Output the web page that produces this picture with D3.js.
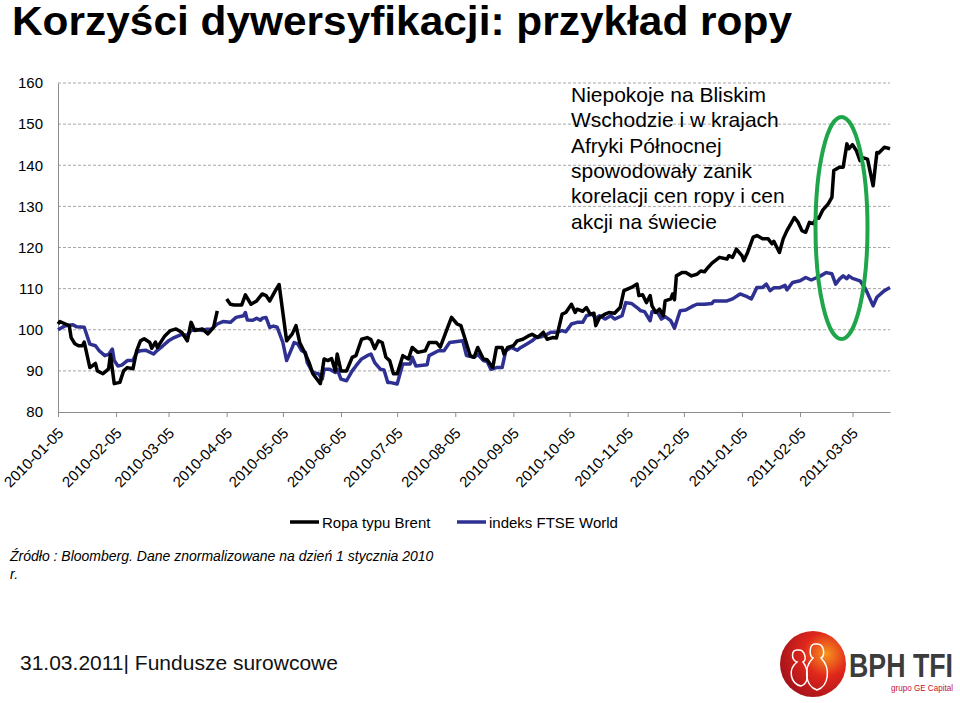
<!DOCTYPE html>
<html>
<head>
<meta charset="utf-8">
<script src="https://cdn.jsdelivr.net/npm/d3@7"></script>
<style>
  body { margin: 0; background: #fff; }
  svg { display: block; font-family: "Liberation Sans", Arial, sans-serif; }
</style>
</head>
<body>
<div id="chart"></div>
<script>
// Brent crude, normalised to 100 on 2010-01-05 (null = gap in the source series)
const brentDates = ["2010-01-05","2010-01-06","2010-01-09","2010-01-11","2010-01-12","2010-01-14","2010-01-16","2010-01-18","2010-01-19","2010-01-22","2010-01-25","2010-01-26","2010-01-29","2010-02-01","2010-02-02","2010-02-04","2010-02-07","2010-02-09","2010-02-11","2010-02-14","2010-02-16","2010-02-18","2010-02-20","2010-02-23","2010-02-24","2010-02-26","2010-02-27","2010-03-03","2010-03-06","2010-03-09","2010-03-12","2010-03-15","2010-03-17","2010-03-19","2010-03-23","2010-03-26","2010-03-29","2010-03-31","2010-04-02","2010-04-05","2010-04-07","2010-04-09","2010-04-13","2010-04-15","2010-04-18","2010-04-21","2010-04-24","2010-04-26","2010-04-28","2010-05-01","2010-05-03","2010-05-07","2010-05-10","2010-05-12","2010-05-14","2010-05-17","2010-05-19","2010-05-21","2010-05-25","2010-05-27","2010-05-29","2010-05-31","2010-06-02","2010-06-03","2010-06-05","2010-06-08","2010-06-11","2010-06-13","2010-06-16","2010-06-19","2010-06-21","2010-06-23","2010-06-25","2010-06-27","2010-06-29","2010-07-01","2010-07-03","2010-07-05","2010-07-08","2010-07-11","2010-07-13","2010-07-16","2010-07-20","2010-07-22","2010-07-26","2010-07-28","2010-07-31","2010-08-03","2010-08-06","2010-08-08","2010-08-10","2010-08-13","2010-08-15","2010-08-17","2010-08-20","2010-08-22","2010-08-25","2010-08-27","2010-08-30","2010-08-31","2010-09-02","2010-09-05","2010-09-07","2010-09-10","2010-09-13","2010-09-15","2010-09-18","2010-09-21","2010-09-23","2010-09-26","2010-09-28","2010-10-01","2010-10-03","2010-10-06","2010-10-08","2010-10-09","2010-10-12","2010-10-14","2010-10-16","2010-10-18","2010-10-19","2010-10-21","2010-10-24","2010-10-26","2010-10-29","2010-11-01","2010-11-03","2010-11-07","2010-11-10","2010-11-11","2010-11-13","2010-11-15","2010-11-17","2010-11-18","2010-11-20","2010-11-22","2010-11-24","2010-11-25","2010-11-28","2010-11-29","2010-11-30","2010-12-01","2010-12-04","2010-12-06","2010-12-09","2010-12-12","2010-12-14","2010-12-16","2010-12-18","2010-12-20","2010-12-24","2010-12-28","2010-12-29","2010-12-31","2011-01-02","2011-01-05","2011-01-06","2011-01-08","2011-01-11","2011-01-13","2011-01-16","2011-01-19","2011-01-21","2011-01-22","2011-01-25","2011-01-27","2011-01-29","2011-01-31","2011-02-02","2011-02-04","2011-02-06","2011-02-08","2011-02-10","2011-02-12","2011-02-14","2011-02-15","2011-02-17","2011-02-20","2011-02-22","2011-02-23","2011-02-26","2011-02-28","2011-03-02","2011-03-03","2011-03-05","2011-03-07","2011-03-09","2011-03-10","2011-03-13","2011-03-16","2011-03-18","2011-03-19","2011-03-22","2011-03-25"];
const brentValues = [101.4,102,101.4,101,98.1,96.6,96.1,96.1,97,90.8,91.8,90,89.3,90.5,94,86.9,87.2,90,90.8,90.5,94.9,97.3,97.8,96.9,95.5,97,95.7,98.5,99.8,100.2,99.4,97.3,101.8,99.8,100.2,99,100.6,104.6,null,107.5,106.2,106,106,108.5,106.2,107,108.7,108.3,107,109.5,111,97.3,99,101,96.9,94.1,92,89.3,86.9,92.9,92.5,93,90,94.1,90,90,93.3,93.7,97.7,98.1,97.6,95.4,97.3,96.9,93.3,92.5,89.3,89.3,93.7,92.9,95.7,94.5,94.9,96.9,96.9,95.8,99.4,103,101.4,101,98.1,93.7,93.3,95.7,92.9,92.7,90.8,95.7,95.7,94.1,95.7,96.1,97.3,97.7,98.5,98.9,98.1,99.4,97.7,98.1,98,103.8,104.2,106.2,104.2,105,104.5,105.4,103.8,104,101,103,103.8,104.2,104,105.4,109.5,110.3,111.1,108.3,108.5,106.6,108.3,105.8,104.2,105,103.4,107,107.5,108.7,107.3,113.1,113.9,113.9,113.1,113.5,114.3,114.1,115.2,116.2,117.6,117.2,118,117.6,119.6,118,116.8,118.8,122.5,122.9,122.1,122.1,120.9,121.5,118.8,122.1,124.1,125.7,127.3,126.1,124.1,123.7,126.1,125.8,127.3,127.1,129,130.6,132.2,138.7,139.5,139.5,145.2,144,145,143.6,141.1,141.9,141.5,135,143.1,143,144.4,144];

// FTSE World index, normalised to 100 on 2010-01-05
const ftseDates = ["2010-01-05","2010-01-09","2010-01-13","2010-01-15","2010-01-19","2010-01-22","2010-01-25","2010-01-27","2010-01-30","2010-02-01","2010-02-03","2010-02-04","2010-02-06","2010-02-08","2010-02-11","2010-02-14","2010-02-16","2010-02-18","2010-02-21","2010-02-25","2010-02-27","2010-03-02","2010-03-05","2010-03-08","2010-03-12","2010-03-15","2010-03-17","2010-03-20","2010-03-23","2010-03-25","2010-03-28","2010-03-31","2010-04-03","2010-04-07","2010-04-08","2010-04-10","2010-04-14","2010-04-15","2010-04-16","2010-04-19","2010-04-21","2010-04-23","2010-04-24","2010-04-26","2010-04-28","2010-04-30","2010-05-02","2010-05-05","2010-05-07","2010-05-10","2010-05-11","2010-05-13","2010-05-15","2010-05-17","2010-05-18","2010-05-21","2010-05-24","2010-05-26","2010-05-27","2010-05-30","2010-06-02","2010-06-03","2010-06-05","2010-06-08","2010-06-11","2010-06-13","2010-06-16","2010-06-19","2010-06-21","2010-06-23","2010-06-26","2010-06-28","2010-06-30","2010-07-01","2010-07-05","2010-07-08","2010-07-12","2010-07-13","2010-07-15","2010-07-21","2010-07-22","2010-07-27","2010-07-30","2010-08-02","2010-08-09","2010-08-11","2010-08-15","2010-08-17","2010-08-20","2010-08-22","2010-08-24","2010-08-27","2010-08-30","2010-09-01","2010-09-04","2010-09-07","2010-09-09","2010-09-12","2010-09-15","2010-09-17","2010-09-20","2010-09-23","2010-09-25","2010-09-28","2010-10-01","2010-10-03","2010-10-06","2010-10-09","2010-10-12","2010-10-14","2010-10-17","2010-10-19","2010-10-21","2010-10-24","2010-10-27","2010-10-29","2010-11-02","2010-11-04","2010-11-07","2010-11-10","2010-11-12","2010-11-14","2010-11-17","2010-11-18","2010-11-21","2010-11-23","2010-11-25","2010-11-28","2010-11-30","2010-12-03","2010-12-06","2010-12-10","2010-12-12","2010-12-16","2010-12-20","2010-12-21","2010-12-28","2010-12-31","2011-01-04","2011-01-07","2011-01-10","2011-01-13","2011-01-16","2011-01-18","2011-01-20","2011-01-22","2011-01-25","2011-01-28","2011-01-29","2011-02-01","2011-02-05","2011-02-08","2011-02-11","2011-02-14","2011-02-16","2011-02-19","2011-02-22","2011-02-24","2011-02-26","2011-02-28","2011-03-02","2011-03-03","2011-03-05","2011-03-09","2011-03-12","2011-03-16","2011-03-18","2011-03-22","2011-03-25"];
const ftseValues = [100,101,101.2,100.7,100.6,96.5,96.1,94.9,93.7,94,95.3,92.5,91.2,91.4,92.5,92.5,94.5,94.9,95,94.1,95,96.1,97.3,98.1,98.9,98.6,99.8,100.1,99.8,100.1,100.2,101.4,102,101.8,102.2,103,103.4,104.2,102.4,102.3,102.8,102.3,102.8,103,100.6,100.9,100.6,96.9,92.5,95.7,96.9,96.5,94.9,94.5,92,89.6,89.3,88,90.4,90.4,89.6,90.4,88,87.6,90,91.2,92.9,93.7,94.1,92,90.4,90.2,87.2,87.2,86.8,91.7,91.7,93.3,91.2,91.5,93.7,94.9,94.9,96.9,97.3,93.7,93.3,94,92.5,92.3,90.4,90.8,90.8,94.9,95.7,95,95.7,96.5,97.3,98.1,98.3,98.9,99.4,99.4,99.8,99.5,101.4,101.8,101.8,103.4,103.8,102.8,103.4,102.6,103.4,102.6,103.4,106.6,106.4,105.4,104.6,104.4,102.2,104.4,104.2,102.6,103.2,102.2,100.4,104.6,104.8,105.8,106.2,106.2,106.4,107,107,107.5,108.7,108.2,107.5,110.3,110.3,111.1,109.5,110.2,110.2,110.8,109.7,111.5,111.9,112.7,112.1,112.7,113.1,113.9,113.6,111.1,112.3,113.1,112.4,113.1,112.5,111.9,109.9,105.8,107.9,109.5,110.3];

const tickDates = ["2010-01-05","2010-02-05","2010-03-05","2010-04-05","2010-05-05","2010-06-05","2010-07-05","2010-08-05","2010-09-05","2010-10-05","2010-11-05","2010-12-05","2011-01-05","2011-02-05","2011-03-05"];
const yTicks = [80, 90, 100, 110, 120, 130, 140, 150, 160];
const seriesNames = ["Ropa typu Brent", "indeks FTSE World"];
const seriesColors = ["#000000", "#2e3192"];

const noteLines = ["Niepokoje na Bliskim", "Wschodzie i w krajach", "Afryki Północnej", "spowodowały zanik", "korelacji cen ropy i cen", "akcji na świecie"];

const width = 960, height = 703;
const margin = {top: 83, right: 70, bottom: 291, left: 58};
const parse = d3.timeParse("%Y-%m-%d");
const font = "Liberation Sans, Arial, sans-serif";

const svg = d3.select("#chart").append("svg")
    .attr("width", width)
    .attr("height", height);

// title
svg.append("text")
    .attr("x", 12).attr("y", 35)
    .attr("font-size", 40).attr("font-weight", "bold")
    .attr("textLength", 780).attr("lengthAdjust", "spacingAndGlyphs")
    .text("Korzyści dywersyfikacji: przykład ropy");

const x = d3.scaleTime()
    .domain([parse("2010-01-05"), parse("2011-03-25")])
    .range([margin.left, width - margin.right]);
const y = d3.scaleLinear()
    .domain([80, 160])
    .range([height - margin.bottom, margin.top]);

// grid
svg.append("g")
    .selectAll("line")
    .data(yTicks.slice(1))
    .enter().append("line")
    .attr("x1", margin.left).attr("x2", width - margin.right)
    .attr("y1", d => y(d)).attr("y2", d => y(d))
    .attr("stroke", "#a6a6a6")
    .attr("stroke-dasharray", "3,2");

// y axis
const yAxis = svg.append("g")
    .attr("transform", "translate(" + margin.left + ",0)")
    .call(d3.axisLeft(y).tickValues(yTicks).tickSize(0).tickPadding(15));
yAxis.select(".domain").attr("stroke", "#8c8c8c");
yAxis.selectAll("text").attr("font-size", 15).attr("fill", "#000")
    .attr("font-family", font);

// x axis
const xAxis = svg.append("g")
    .attr("transform", "translate(0," + y(80) + ")")
    .call(d3.axisBottom(x).tickValues(tickDates.map(parse))
        .tickFormat(d3.timeFormat("%Y-%m-%d")).tickSizeInner(5).tickSizeOuter(0));
xAxis.select(".domain").attr("stroke", "#8c8c8c");
xAxis.selectAll(".tick line").attr("stroke", "#8c8c8c");
xAxis.selectAll("text")
    .attr("font-size", 15).attr("fill", "#000")
    .attr("font-family", font)
    .attr("text-anchor", "end")
    .attr("dy", 0).attr("y", 0)
    .attr("transform", "translate(6,22) rotate(-45)");

// lines
const line = d3.line()
    .defined(d => d.v != null)
    .x(d => x(d.t))
    .y(d => y(d.v));

const brent = brentDates.map((d, i) => ({t: parse(d), v: brentValues[i]}));
const ftse = ftseDates.map((d, i) => ({t: parse(d), v: ftseValues[i]}));

svg.append("path").datum(ftse)
    .attr("d", line)
    .attr("fill", "none")
    .attr("stroke", seriesColors[1])
    .attr("stroke-width", 3.5)
    .attr("stroke-linejoin", "round");
svg.append("path").datum(brent)
    .attr("d", line)
    .attr("fill", "none")
    .attr("stroke", seriesColors[0])
    .attr("stroke-width", 3.5)
    .attr("stroke-linejoin", "round");

// annotation
const note = svg.append("text")
    .attr("font-size", 21).attr("fill", "#000");
note.selectAll("tspan")
    .data(noteLines)
    .enter().append("tspan")
    .attr("x", 571)
    .attr("y", (d, i) => 102 + i * 25.3)
    .text(d => d);

svg.append("ellipse")
    .attr("cx", 841.5).attr("cy", 228)
    .attr("rx", 26).attr("ry", 111)
    .attr("fill", "none")
    .attr("stroke", "#1fa64a")
    .attr("stroke-width", 4);

// legend
const legendX = [290, 457];
const legend = svg.append("g");
seriesNames.forEach((name, i) => {
    legend.append("line")
        .attr("x1", legendX[i]).attr("x2", legendX[i] + 29)
        .attr("y1", 522).attr("y2", 522)
        .attr("stroke", seriesColors[i]).attr("stroke-width", 3.5);
    legend.append("text")
        .attr("x", legendX[i] + 32).attr("y", 528)
        .attr("font-size", 15)
        .text(name);
});

// source note
svg.append("text")
    .attr("x", 10).attr("y", 561)
    .attr("font-size", 14).attr("font-style", "italic")
    .text("Źródło : Bloomberg. Dane znormalizowane na dzień 1 stycznia 2010");
svg.append("text")
    .attr("x", 10).attr("y", 579)
    .attr("font-size", 14).attr("font-style", "italic")
    .text("r.");

// footer
svg.append("text")
    .attr("x", 20).attr("y", 670)
    .attr("font-size", 21).attr("fill", "#111")
    .text("31.03.2011| Fundusze surowcowe");

// logo
const defs = svg.append("defs");
const grad = defs.append("radialGradient").attr("id", "logoGrad")
    .attr("cx", "70%").attr("cy", "35%").attr("r", "75%");
grad.append("stop").attr("offset", "0%").attr("stop-color", "#f7941d");
grad.append("stop").attr("offset", "45%").attr("stop-color", "#e0271c");
grad.append("stop").attr("offset", "100%").attr("stop-color", "#a3121a");
const logo = svg.append("g").attr("transform", "translate(813,664)");
logo.append("circle").attr("r", 33).attr("fill", "url(#logoGrad)");
logo.append("path")
    .attr("d", "M-16,-14 C-22,-14 -22,-4 -16,-2 C-26,6 -22,20 -12,22 C-4,20 -4,6 -10,-2 C-6,-4 -8,-14 -14,-14 Z")
    .attr("fill", "none").attr("stroke", "#fff").attr("stroke-width", 1.5);
logo.append("path")
    .attr("d", "M2,-20 C-4,-20 -4,-8 0,-6 C-10,4 -8,22 4,26 C16,22 18,4 8,-6 C12,-8 12,-20 4,-20 Z")
    .attr("fill", "none").attr("stroke", "#fff").attr("stroke-width", 1.5);
svg.append("g")
    .attr("transform", "translate(849,677) scale(1,1.2)")
    .append("text")
    .attr("font-size", 27).attr("font-weight", "bold")
    .attr("fill", "#3c3c3c")
    .attr("textLength", 104).attr("lengthAdjust", "spacingAndGlyphs")
    .text("BPH TFI");
svg.append("text")
    .attr("x", 891).attr("y", 691)
    .attr("font-size", 9).attr("fill", "#c8102e")
    .attr("textLength", 62).attr("lengthAdjust", "spacingAndGlyphs")
    .text("grupo GE Capital");
</script>
</body>
</html>
